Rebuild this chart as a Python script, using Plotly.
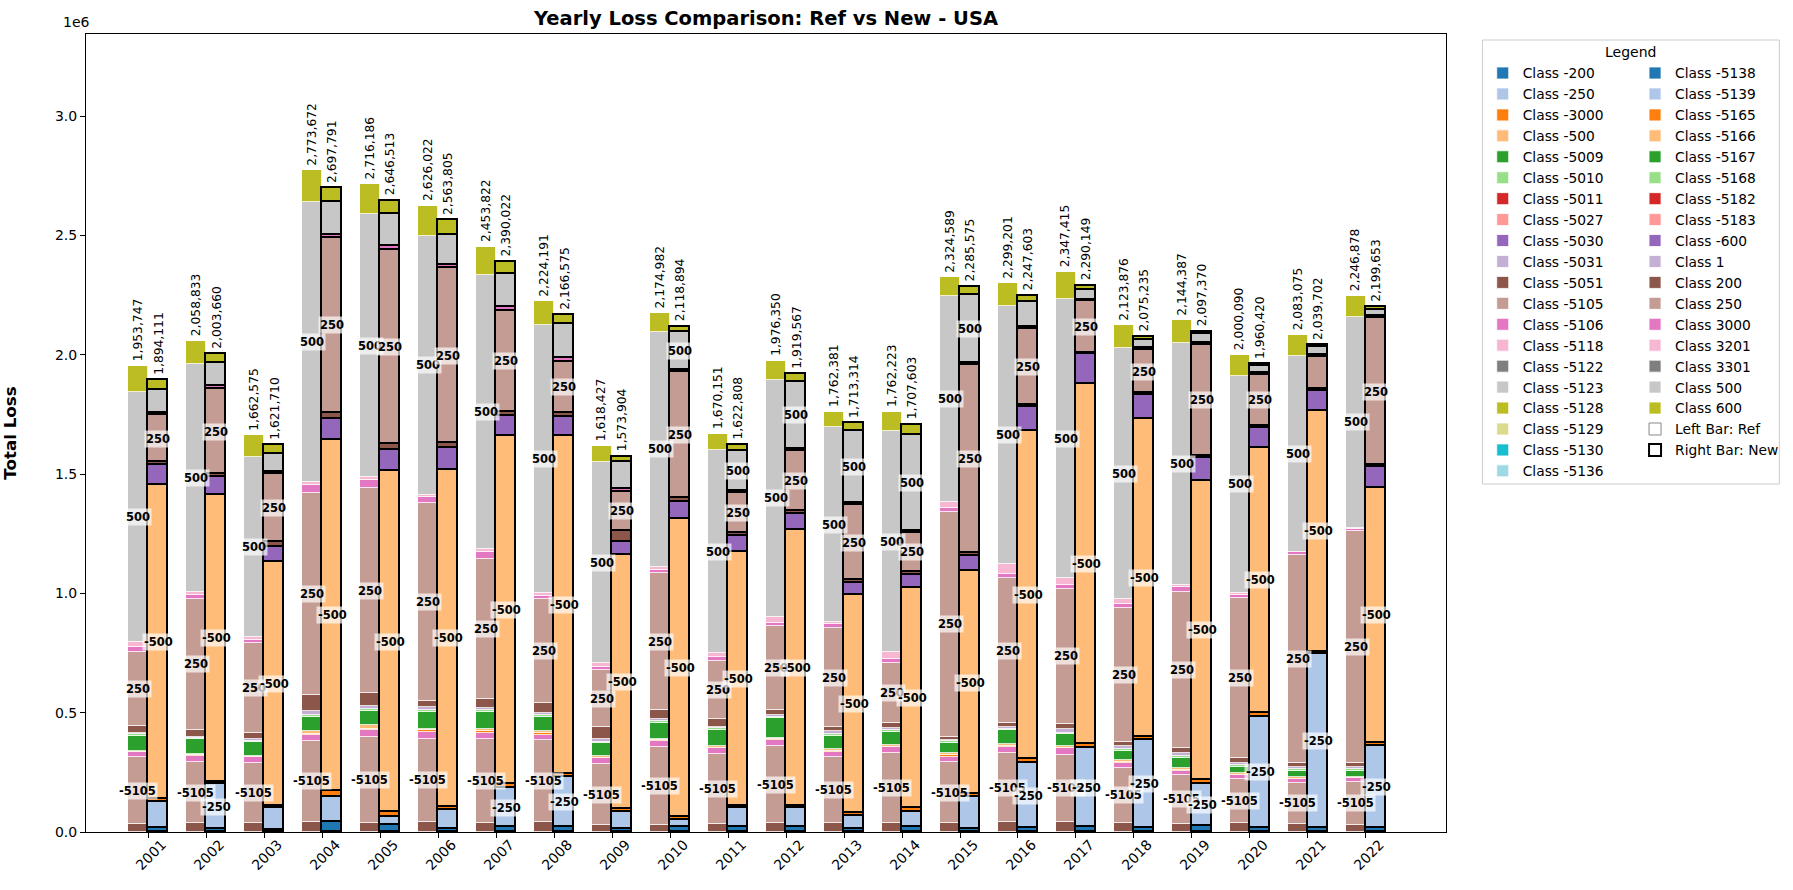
import plotly.graph_objects as go

years = ["2001", "2002", "2003", "2004", "2005", "2006", "2007", "2008", "2009", "2010", "2011",
         "2012", "2013", "2014", "2015", "2016", "2017", "2018", "2019", "2020", "2021", "2022"]

classes = ["-200", "-250", "-3000", "-500", "-5009", "-5010", "-5011", "-5027", "-5030", "-5031",
           "-5051", "-5105", "-5106", "-5118", "-5122", "-5123", "-5128", "-5129", "-5130", "-5136",
           "-5138", "-5139", "-5165", "-5166", "-5167", "-5168", "-5182", "-5183", "-600", "1",
           "200", "250", "3000", "3201", "3301", "500", "600"]

tab20 = ["#1f77b4", "#aec7e8", "#ff7f0e", "#ffbb78", "#2ca02c", "#98df8a", "#d62728", "#ff9896",
         "#9467bd", "#c5b0d5", "#8c564b", "#c49c94", "#e377c2", "#f7b6d2", "#7f7f7f", "#c7c7c7",
         "#bcbd22", "#dbdb8d", "#17becf", "#9edae5"]

# ---- Ref (left bar) losses per class ----
ref_m5051 = [34000, 36000, 36000, 43000, 39000, 43000, 36000, 43000, 29000, 28000, 34000,
             36000, 36000, 39000, 36000, 43000, 43000, 39000, 34000, 36000, 34000, 29000]
ref_m5105 = [279000, 259000, 255000, 340000, 361000, 346000, 353000, 343000, 256000, 327000, 292000,
             325000, 277000, 291000, 259000, 287000, 280000, 231000, 205000, 185000, 173000, 182000]
ref_m5106 = [24000, 25000, 22000, 24000, 28000, 32000, 28000, 21000, 24000, 27000, 25000,
             25000, 24000, 25000, 21000, 28000, 28000, 21000, 17000, 18000, 14000, 14000]
ref_m5165 = [0, 3000, 3000, 5000, 3000, 6000, 6000, 6000, 3000, 3000, 3000,
             5000, 3000, 3000, 5000, 3000, 3000, 3000, 3000, 2000, 2000, 1000]
ref_m5166 = [4000, 4000, 4000, 12000, 18000, 3000, 9000, 12000, 7000, 6000, 7000,
             3000, 7000, 5000, 9000, 7000, 7000, 8000, 8000, 5000, 6000, 3000]
ref_m5167 = [63000, 62000, 57000, 58000, 58000, 75000, 73000, 59000, 53000, 68000, 67000,
             83000, 56000, 58000, 45000, 60000, 50000, 39000, 45000, 28000, 28000, 28000]
ref_m5168 = [5000, 5000, 5000, 8000, 8000, 8000, 6000, 8000, 7000, 7000, 7000,
             6000, 6000, 6000, 6000, 5000, 6000, 8000, 6000, 8000, 6000, 6000]
ref_1 = [8000, 6000, 7000, 17000, 13000, 10000, 8000, 8000, 10000, 7000, 7000,
         8000, 15000, 8000, 5000, 6000, 14000, 12000, 12000, 9000, 11000, 8000]
ref_200 = [27000, 28000, 25000, 68000, 54000, 28000, 39000, 40000, 53000, 39000, 31000,
           21000, 15000, 24000, 14000, 17000, 21000, 18000, 24000, 18000, 17000, 17000]
ref_250 = [312000, 549000, 377000, 845000, 859000, 827000, 585000, 435000, 235000, 573000, 244000,
           350000, 416000, 248000, 943000, 609000, 568000, 561000, 654000, 671000, 869000, 974000]
ref_3000 = [20000, 17000, 15000, 35000, 33000, 27000, 32000, 15000, 16000, 15000, 16000,
            15000, 15000, 19000, 14000, 15000, 15000, 15000, 17000, 13000, 12000, 10000]
ref_3201 = [22000, 14000, 10000, 11000, 13000, 8000, 10000, 10000, 14000, 12000, 16000,
            25000, 10000, 30000, 25000, 45000, 30000, 20000, 11000, 8000, 3000, 4000]
ref_500 = [1047747, 952833, 757575, 1176672, 1103186, 1086022, 1149822, 1126191, 843427, 982982, 853151,
           993350, 817381, 923223, 864589, 1078201, 1168415, 1052876, 1013387, 912090, 822075, 881878]
ref_600 = [108000, 98000, 89000, 131000, 126000, 127000, 119000, 98000, 68000, 80000, 68000,
           81000, 65000, 83000, 78000, 96000, 114000, 96000, 95000, 87000, 86000, 89000]

# ---- New (right bar) losses per class ----
new_m200 = [15000, 12000, 10000, 43000, 29000, 11000, 22000, 20000, 14000, 22000, 20000,
            20000, 14000, 20000, 11000, 15000, 22000, 18000, 25000, 18000, 15000, 18000]
new_m250 = [109000, 189000, 89000, 105000, 35000, 81000, 161000, 212000, 71000, 28000, 79000,
            79000, 53000, 65000, 137000, 276000, 329000, 368000, 176000, 463000, 732000, 343000]
new_m3000 = [14000, 10000, 11000, 25000, 18000, 14000, 18000, 10000, 11000, 14000, 10000,
             11000, 11000, 14000, 10000, 15000, 18000, 14000, 17000, 17000, 9000, 14000]
new_m500 = [1317000, 1202000, 1023000, 1471000, 1432000, 1412000, 1457000, 1418000, 1065000, 1248000, 1066000,
            1156000, 914000, 922000, 935000, 1375000, 1508000, 1330000, 1254000, 1113000, 1009000, 1069000]
new_m600 = [84000, 74000, 63000, 86000, 88000, 91000, 86000, 81000, 56000, 73000, 66000,
            67000, 53000, 57000, 64000, 100000, 126000, 102000, 95000, 82000, 85000, 88000]
new_200 = [11000, 12000, 18000, 28000, 24000, 21000, 18000, 15000, 45000, 17000, 14000,
           14000, 10000, 12000, 11000, 8000, 4000, 7000, 9000, 10000, 6000, 6000]
new_250 = [196000, 357000, 287000, 731000, 814000, 733000, 423000, 216000, 165000, 528000, 165000,
           250000, 315000, 165000, 790000, 320000, 217000, 182000, 466000, 213000, 137000, 616000]
new_3000 = [12000, 14000, 8000, 14000, 18000, 15000, 14000, 14000, 10000, 7000, 11000,
            9000, 8000, 7000, 9000, 6000, 6000, 7000, 7000, 7000, 7000, 7000]
new_500 = [95111, 94660, 75710, 135791, 132513, 124805, 141022, 143575, 115904, 156894, 165808,
           281567, 303314, 402603, 284575, 108603, 43149, 35235, 39370, 28420, 31702, 27653]
new_600 = [41000, 39000, 37000, 59000, 56000, 61000, 50000, 37000, 21000, 25000, 26000,
           32000, 32000, 43000, 34000, 24000, 17000, 12000, 9000, 9000, 8000, 11000]

ref_totals = [1953747, 2058833, 1662575, 2773672, 2716186, 2626022, 2453822, 2224191, 1618427, 2174982, 1670151,
              1976350, 1762381, 1762223, 2324589, 2299201, 2347415, 2123876, 2144387, 2000090, 2083075, 2246878]
new_totals = [1894111, 2003660, 1621710, 2697791, 2646513, 2563805, 2390022, 2166575, 1573904, 2118894, 1622808,
              1919567, 1713314, 1707603, 2285575, 2247603, 2290149, 2075235, 2097370, 1960420, 2039702, 2199653]

y_tick_vals = [0, 500000, 1000000, 1500000, 2000000, 2500000, 3000000]
y_tick_text = ["0.0", "0.5", "1.0", "1.5", "2.0", "2.5", "3.0"]

ref_series = [("-5051", ref_m5051), ("-5105", ref_m5105), ("-5106", ref_m5106), ("-5165", ref_m5165),
              ("-5166", ref_m5166), ("-5167", ref_m5167), ("-5168", ref_m5168), ("1", ref_1),
              ("200", ref_200), ("250", ref_250), ("3000", ref_3000), ("3201", ref_3201),
              ("500", ref_500), ("600", ref_600)]
new_series = [("-200", new_m200), ("-250", new_m250), ("-3000", new_m3000), ("-500", new_m500),
              ("-600", new_m600), ("200", new_200), ("250", new_250), ("3000", new_3000),
              ("500", new_500), ("600", new_600)]

color_of = {c: tab20[i % 20] for i, c in enumerate(classes)}

FONT = "DejaVu Sans"
BAR_W = 0.35
LABEL_MIN = 150000
n = len(years)
x_ref = [i - BAR_W / 2 for i in range(n)]
x_new = [i + BAR_W / 2 for i in range(n)]

fig = go.Figure()
seg_labels = []


def add_side(series, xs, line_color, line_width, side):
    base = [0] * n
    for cls, vals in series:
        fig.add_trace(go.Bar(
            x=xs, y=vals, width=BAR_W, name=f"Class {cls}", legendgroup=cls, showlegend=False,
            marker=dict(color=color_of[cls], line=dict(color=line_color, width=line_width)),
            customdata=years,
            hovertemplate=f"{side} %{{customdata}}<br>Class {cls}: %{{y:,.0f}}<extra></extra>",
        ))
        for i, v in enumerate(vals):
            if v > LABEL_MIN:
                seg_labels.append(dict(
                    x=xs[i], y=base[i] + v / 2, text=f"<b>{cls}</b>", showarrow=False,
                    font=dict(family=FONT, size=11.5, color="black"),
                    bgcolor="rgba(255,255,255,0.68)", borderpad=1,
                    xanchor="center", yanchor="middle",
                ))
            base[i] += v
    return base


ref_top = add_side(ref_series, x_ref, "white", 0.8, "Ref")
new_top = add_side(new_series, x_new, "black", 1.7, "New")

total_labels = []
for xs, tops, totals in ((x_ref, ref_top, ref_totals), (x_new, new_top, new_totals)):
    for i in range(n):
        total_labels.append(dict(
            x=xs[i], y=tops[i], text=f"{totals[i]:,}", showarrow=False, textangle=-90,
            font=dict(family=FONT, size=12.3, color="black"),
            xanchor="center", yanchor="bottom", yshift=3,
        ))

# legend-only entries (two columns)
for idx, cls in enumerate(classes):
    fig.add_trace(go.Bar(
        x=[None], y=[None], name=f"Class {cls}", legendgroup=cls,
        legend="legend" if idx < 20 else "legend2",
        marker=dict(color=color_of[cls], line=dict(color="white", width=0.8)),
        hoverinfo="skip",
    ))
fig.add_trace(go.Bar(x=[None], y=[None], name="Left Bar: Ref", legend="legend2",
                     marker=dict(color="white", line=dict(color="#888888", width=1)), hoverinfo="skip"))
fig.add_trace(go.Bar(x=[None], y=[None], name="Right Bar: New", legend="legend2",
                     marker=dict(color="white", line=dict(color="black", width=2)), hoverinfo="skip"))

other_ann = [
    dict(text="1e6", xref="paper", yref="paper", x=0, y=1, xanchor="right", yanchor="bottom",
         xshift=6, yshift=2, showarrow=False, font=dict(family=FONT, size=14, color="black")),
    dict(text="Legend", xref="paper", yref="paper", x=1.136, y=0.978, xanchor="center", yanchor="middle",
         showarrow=False, font=dict(family=FONT, size=14, color="black")),
]

legend_common = dict(xanchor="left", yanchor="top", font=dict(family=FONT, size=13.8, color="black"),
                     bgcolor="rgba(0,0,0,0)", tracegroupgap=0, traceorder="normal", orientation="v")

fig.update_layout(
    width=1793, height=890,
    margin=dict(l=86, r=347, t=34, b=58, autoexpand=False),
    paper_bgcolor="white", plot_bgcolor="white",
    barmode="stack", bargap=0,
    font=dict(family=FONT, size=14, color="black"),
    title=dict(text="<b>Yearly Loss Comparison: Ref vs New - USA</b>", x=0.5, xref="paper",
               y=1 - 18 / 890, yanchor="middle", font=dict(family=FONT, size=19.5, color="black")),
    xaxis=dict(range=[-1.07, 22.38], tickmode="array", tickvals=list(range(n)), ticktext=years,
               tickangle=-45, ticks="outside", ticklen=5, tickcolor="black", showline=True,
               linecolor="black", linewidth=1, mirror=True, showgrid=False, zeroline=False,
               automargin=False, ticklabelshift=14, ticklabelstandoff=-7,
               tickfont=dict(family=FONT, size=14)),
    yaxis=dict(range=[0, 3345000], tickmode="array", tickvals=y_tick_vals, ticktext=y_tick_text,
               ticks="outside", ticklen=5, tickcolor="black", showline=True, linecolor="black",
               linewidth=1, mirror=True, showgrid=False, zeroline=False, automargin=False,
               tickfont=dict(family=FONT, size=14),
               title=dict(text="<b>Total Loss</b>", font=dict(family=FONT, size=16.7), standoff=53)),
    legend=dict(x=1.027, y=0.9705, **legend_common),
    legend2=dict(x=1.139, y=0.9705, **legend_common),
    annotations=seg_labels + total_labels + other_ann,
    shapes=[dict(type="rect", xref="paper", yref="paper", x0=1.0268, x1=1.2451, y0=0.4361, y1=0.9925,
                 line=dict(color="#cccccc", width=1), fillcolor="rgba(0,0,0,0)", layer="below")],
    showlegend=True,
)

fig.write_html("out.html", config={"displayModeBar": False},
               post_script="document.body.style.margin='0px';")
